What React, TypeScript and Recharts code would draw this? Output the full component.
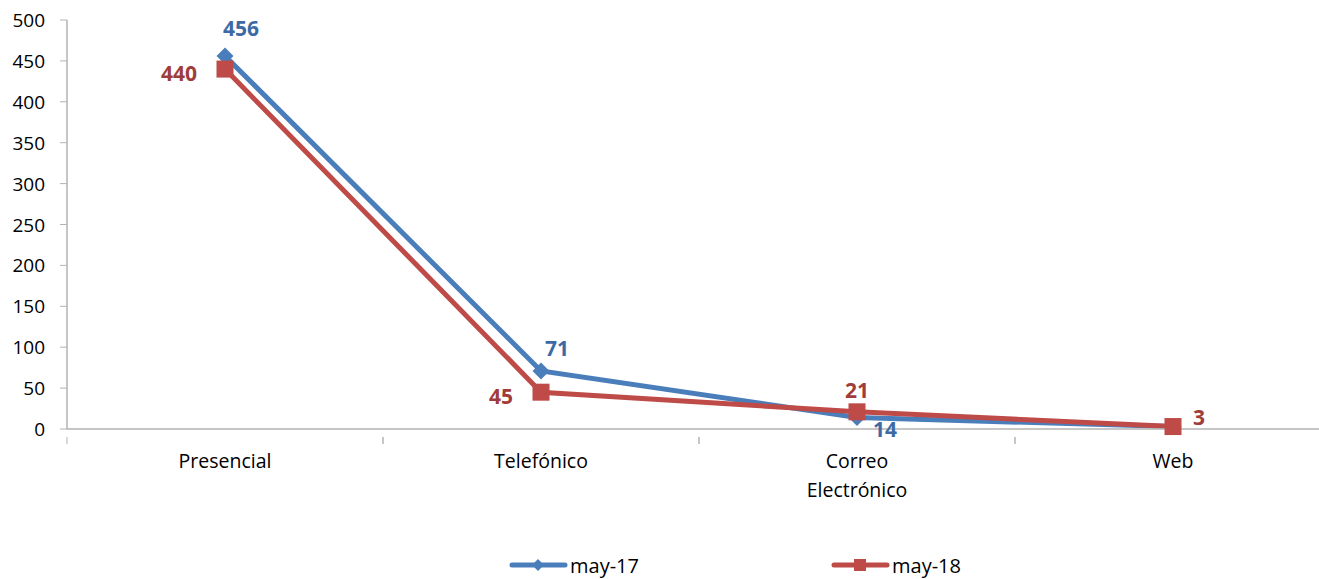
import React from "react";
import { LineChart, Line, XAxis, YAxis, LabelList } from "recharts";

const categories = ["Presencial", "Telefónico", "Correo\nElectrónico", "Web"];
const may17 = [456, 71, 14, 3];
const may18 = [440, 45, 21, 3];
const yTicks = [0, 50, 100, 150, 200, 250, 300, 350, 400, 450, 500];
const may17Show = [true, true, true, false];
const may17Pos = ["topRight", "topRightLow", "bottomRight", "right"];
const may18Pos = ["left", "left", "top", "right"];

const data = categories.map((c, i) => ({ name: c, may17: may17[i], may18: may18[i], i }));

const FONT = "'Open Sans', 'Noto Sans', sans-serif";
const BLUE = "#4A7EBB";
const RED = "#BE4B48";
const BLUE_T = "#3D6AA5";
const RED_T = "#A03C39";
const AXIS = "#B3B3B3";
const BAND = 316;

const Diamond = (props: any) => {
  const { cx, cy } = props;
  if (cx == null || cy == null) return null;
  const r = 8.5;
  return <path d={`M${cx},${cy - r}L${cx + r},${cy}L${cx},${cy + r}L${cx - r},${cy}Z`} fill={BLUE} />;
};
const Square = (props: any) => {
  const { cx, cy } = props;
  if (cx == null || cy == null) return null;
  const r = 8.5;
  return <rect x={cx - r} y={cy - r} width={2 * r} height={2 * r} fill={RED} />;
};

const makeLabel = (pos: string[], color: string, show: boolean[] | null) => (props: any) => {
  const { x, y, value, index } = props;
  if (show && !show[index]) return null;
  const p = pos[index];
  let tx = x, ty = y, anchor: any = "middle";
  if (p === "topRight") { tx = x + 16; ty = y - 28; anchor = "middle"; }
  else if (p === "topRightLow") { tx = x + 16; ty = y - 23; anchor = "middle"; }
  else if (p === "left") { tx = x - 28; ty = y + 4; anchor = "end"; }
  else if (p === "top") { tx = x; ty = y - 22; }
  else if (p === "bottomRight") { tx = x + 16; ty = y + 11; anchor = "start"; }
  else if (p === "right") { tx = x + 20; ty = y - 10; anchor = "start"; }
  return (
    <text x={tx} y={ty} textAnchor={anchor} dominantBaseline="central" fill={color}
      fontSize={21} fontWeight={700} fontFamily={FONT}>{value}</text>
  );
};

const CatTick = (props: any) => {
  const { x, y, payload } = props;
  const lines = String(payload.value).split("\n");
  return (
    <g>
      <line x1={x - BAND / 2} y1={y} x2={x - BAND / 2} y2={y + 7} stroke={AXIS} strokeWidth={1} />
      <line x1={x + BAND / 2} y1={y} x2={x + BAND / 2} y2={y + 7} stroke={AXIS} strokeWidth={1} />
      {lines.map((l, k) => (
        <text key={k} x={x} y={y + 23 + k * 29} textAnchor="middle" dominantBaseline="central" fill="#000" fontSize={19.5} fontFamily={FONT}>{l}</text>
      ))}
    </g>
  );
};

const YTick = (props: any) => {
  const { x, y, payload } = props;
  return (
    <text x={x - 13} y={y} textAnchor="end" dominantBaseline="central" fill="#000" fontSize={19} fontFamily={FONT}>{payload.value}</text>
  );
};

const LegendBox = () => (
  <svg width={1319} height={40} style={{ position: "absolute", left: 0, top: 546 }}>
    <line x1={512} y1={19} x2={565} y2={19} stroke={BLUE} strokeWidth={5} strokeLinecap="round" />
    <path d="M538,13L544,19L538,25L532,19Z" fill={BLUE} />
    <text x={570} y={19} dominantBaseline="central" fontSize={20} fontFamily={FONT} fill="#000">may-17</text>
    <line x1={834} y1={19} x2={887} y2={19} stroke={RED} strokeWidth={5} strokeLinecap="round" />
    <rect x={854} y={13} width={12} height={12} fill={RED} />
    <text x={892} y={19} dominantBaseline="central" fontSize={20} fontFamily={FONT} fill="#000">may-18</text>
  </svg>
);

export default function App() {
  return (
    <div style={{ position: "absolute", left: 0, top: 0, width: 1319, height: 579, overflow: "hidden", background: "#fff" }}>
      <LineChart width={1360} height={579} data={data} margin={{ top: 20, right: 29, bottom: 90, left: 0 }}>
        <XAxis dataKey="name" interval={0} tickLine={false} axisLine={{ stroke: AXIS, strokeWidth: 1.5 }}
          tick={<CatTick />} height={60} padding={{ left: BAND / 2, right: BAND / 2 }} />
        <YAxis domain={[0, 500]} ticks={yTicks} width={67} axisLine={{ stroke: AXIS, strokeWidth: 1.5 }}
          tickLine={{ stroke: AXIS }} tickSize={7} tick={<YTick />} interval={0} />
        <Line dataKey="may17" stroke={BLUE} strokeWidth={5} dot={<Diamond />} activeDot={false} isAnimationActive={false}>
          <LabelList dataKey="may17" content={makeLabel(may17Pos, BLUE_T, may17Show)} />
        </Line>
        <Line dataKey="may18" stroke={RED} strokeWidth={5} dot={<Square />} activeDot={false} isAnimationActive={false}>
          <LabelList dataKey="may18" content={makeLabel(may18Pos, RED_T, null)} />
        </Line>
      </LineChart>
      <LegendBox />
    </div>
  );
}
